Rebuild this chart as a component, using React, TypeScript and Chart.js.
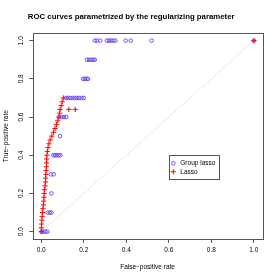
import React, { useEffect, useRef } from 'react';
import { Chart, registerables } from 'chart.js';

Chart.register(...registerables);

const titleText = 'ROC curves parametrized by the regularizing parameter';
const xTitle = 'False\u2212positive rate';
const yTitle = 'True\u2212positive rate';
const legendLabels = ['Group lasso', 'Lasso'];
const tickValues = [0, 0.2, 0.4, 0.6, 0.8, 1.0];

const groupFpr = [
  0.002, 0.01, 0.02, 0.029,
  0.03, 0.04, 0.048,
  0.048,
  0.046, 0.059,
  0.057, 0.065, 0.073, 0.082, 0.09,
  0.088,
  0.085, 0.096, 0.107, 0.118,
  0.117, 0.127, 0.137, 0.147, 0.157, 0.167, 0.178, 0.19, 0.2,
  0.197, 0.205, 0.213, 0.22,
  0.215, 0.225, 0.235, 0.245, 0.252,
  0.252, 0.262, 0.278, 0.309, 0.319, 0.329, 0.339, 0.349, 0.397, 0.421, 0.519, 1,
];
const groupTpr = [
  0, 0, 0, 0,
  0.1, 0.1, 0.1,
  0.2,
  0.3, 0.3,
  0.4, 0.4, 0.4, 0.4, 0.4,
  0.5,
  0.6, 0.6, 0.6, 0.6,
  0.7, 0.7, 0.7, 0.7, 0.7, 0.7, 0.7, 0.7, 0.7,
  0.8, 0.8, 0.8, 0.8,
  0.9, 0.9, 0.9, 0.9, 0.9,
  1, 1, 1, 1, 1, 1, 1, 1, 1, 1, 1, 1,
];

const lassoFpr = [
  0, 0.001, 0.002, 0.003, 0.004, 0.006, 0.008, 0.01, 0.012, 0.013,
  0.014, 0.016, 0.018, 0.02, 0.021, 0.022, 0.023, 0.024, 0.025, 0.026,
  0.027, 0.029, 0.032, 0.036, 0.042, 0.05, 0.058, 0.065, 0.072, 0.078,
  0.083, 0.087, 0.089, 0.13, 0.16, 0.094, 0.099, 0.104, 1,
];
const lassoTpr = [
  0, 0.02, 0.04, 0.06, 0.08, 0.1, 0.12, 0.14, 0.16, 0.18,
  0.2, 0.22, 0.24, 0.26, 0.28, 0.3, 0.32, 0.34, 0.36, 0.38,
  0.4, 0.42, 0.44, 0.46, 0.48, 0.5, 0.52, 0.54, 0.56, 0.58,
  0.6, 0.62, 0.64, 0.64, 0.64, 0.66, 0.68, 0.7, 1,
];

const diagonalX = [0, 1];
const diagonalY = [0, 1];

const FONT = '"Liberation Sans", Arial, Helvetica, sans-serif';
const GROUP_COLOR = '#6a3df0';
const LASSO_COLOR = '#ff0000';
const AXIS_COLOR = '#555555';

export default function App() {
  const ref = useRef<HTMLCanvasElement | null>(null);

  useEffect(() => {
    if (!ref.current) return;

    const boxPlugin = {
      id: 'rbox',
      afterDraw(chart: any) {
        const { ctx, chartArea: a, scales } = chart;
        ctx.save();
        ctx.strokeStyle = AXIS_COLOR;
        ctx.lineWidth = 1;
        ctx.strokeRect(Math.round(a.left) + 0.5, Math.round(a.top) + 0.5, Math.round(a.right - a.left), Math.round(a.bottom - a.top));

        // legend
        const lx = scales.x.getPixelForValue(0.6);
        const ty = scales.y.getPixelForValue(0.4);
        const w = 50;
        const h = 24;
        ctx.strokeRect(Math.round(lx) + 0.5, Math.round(ty) + 0.5, w, h);
        ctx.font = '6.5px ' + FONT;
        ctx.fillStyle = '#000';
        ctx.textBaseline = 'middle';
        ctx.textAlign = 'left';
        const rows = [ty + 8, ty + 16.5];
        ctx.strokeStyle = GROUP_COLOR;
        ctx.lineWidth = 0.9;
        ctx.beginPath();
        ctx.arc(lx + 4.5, rows[0], 1.8, 0, Math.PI * 2);
        ctx.stroke();
        ctx.strokeStyle = LASSO_COLOR;
        ctx.lineWidth = 1;
        ctx.beginPath();
        ctx.moveTo(lx + 4.5 - 2.6, rows[1]);
        ctx.lineTo(lx + 4.5 + 2.6, rows[1]);
        ctx.moveTo(lx + 4.5, rows[1] - 2.6);
        ctx.lineTo(lx + 4.5, rows[1] + 2.6);
        ctx.stroke();
        ctx.fillText(legendLabels[0], lx + 11.5, rows[0]);
        ctx.fillText(legendLabels[1], lx + 11.5, rows[1]);
        ctx.restore();
      },
    };

    const axisCommon = (title: string, isX: boolean) => ({
      type: 'linear' as const,
      min: -0.04,
      max: 1.04,
      afterBuildTicks: (scale: any) => {
        scale.ticks = tickValues.map((v) => ({ value: v }));
      },
      ticks: {
        callback: (v: any) => Number(v).toFixed(1),
        font: { family: FONT, size: 6.5 },
        color: '#000',
        padding: isX ? 4 : 3.7,
        autoSkip: false,
        minRotation: isX ? 0 : 90,
        maxRotation: isX ? 0 : 90,
        crossAlign: isX ? 'near' : 'center',
      },
      grid: {
        display: true,
        drawOnChartArea: false,
        drawTicks: true,
        tickLength: 3.5,
        color: AXIS_COLOR,
        lineWidth: 1,
      },
      border: { display: false },
      title: {
        display: true,
        text: title,
        color: '#000',
        font: { family: FONT, size: 6.5 },
        padding: isX ? { top: 0, bottom: 8.8 } : { top: 2.6, bottom: 0 },
      },
      afterFit: (scale: any) => {
        if (isX) scale.height = 40.7;
        else scale.width = 32.7;
      },
    });

    const chart = new Chart(ref.current, {
      type: 'scatter',
      data: {
        datasets: [
          {
            label: legendLabels[1],
            data: lassoFpr.map((x, i) => ({ x, y: lassoTpr[i] })),
            pointStyle: 'cross',
            pointRadius: 2.6,
            pointBorderWidth: 1,
            borderColor: LASSO_COLOR,
            pointBorderColor: LASSO_COLOR,
            backgroundColor: LASSO_COLOR,
            showLine: false,
          },
          {
            label: legendLabels[0],
            data: groupFpr.map((x, i) => ({ x, y: groupTpr[i] })),
            pointStyle: 'circle',
            pointRadius: 1.8,
            pointBorderWidth: 0.9,
            borderColor: GROUP_COLOR,
            pointBorderColor: GROUP_COLOR,
            backgroundColor: 'rgba(0,0,0,0)',
            pointBackgroundColor: 'rgba(0,0,0,0)',
            showLine: false,
          },
          {
            type: 'line',
            label: 'diagonal',
            data: diagonalX.map((x, i) => ({ x, y: diagonalY[i] })),
            borderColor: '#c0c0c0',
            borderWidth: 1,
            borderDash: [1, 2],
            pointRadius: 0,
            fill: false,
          } as any,
        ],
      },
      options: {
        responsive: false,
        animation: false,
        devicePixelRatio: 1,
        layout: { padding: { left: 0, right: 17.6, top: 0, bottom: 0 } },
        plugins: {
          legend: { display: false },
          tooltip: { enabled: false },
          title: {
            display: true,
            text: titleText,
            color: '#000',
            font: { family: FONT, size: 7.8, weight: 'bold', lineHeight: 1.2 },
            padding: { top: 12, bottom: 11.64 },
          },
        },
        scales: {
          x: axisCommon(xTitle, true) as any,
          y: axisCommon(yTitle, false) as any,
        },
      },
      plugins: [boxPlugin],
    });

    return () => chart.destroy();
  }, []);

  return (
    <div style={{ position: 'fixed', left: 0, top: 0, width: 280, height: 280, background: '#fff' }}>
      <canvas ref={ref} width={280} height={280} style={{ width: 280, height: 280 }} />
    </div>
  );
}
